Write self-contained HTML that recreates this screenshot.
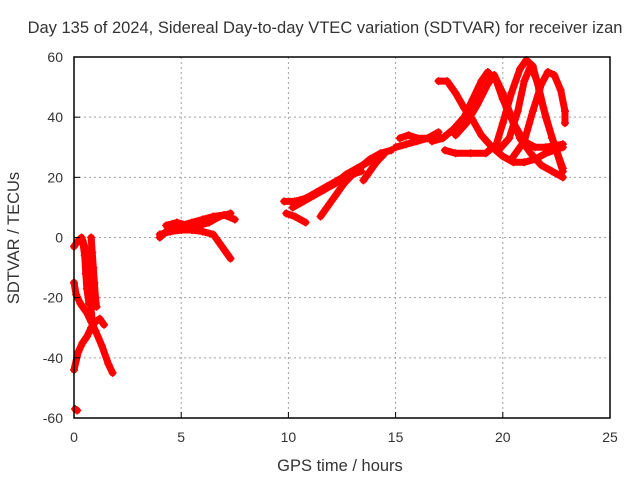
<!DOCTYPE html>
<html><head><meta charset="utf-8"><style>
body{margin:0;background:#fff}
svg text{font-family:"Liberation Sans",sans-serif;font-size:14px;fill:#333}
svg text.big{font-size:16.5px}
</style></head><body>
<svg width="640" height="480" viewBox="0 0 640 480" xmlns="http://www.w3.org/2000/svg">
<g id="grid"></g>
<g id="series"></g>
<rect x="74" y="57" width="536" height="361" fill="none" stroke="#000" stroke-width="1.5"/>
<g id="ticks"></g>
<text class="big" x="325" y="33" text-anchor="middle">Day 135 of 2024, Sidereal Day-to-day VTEC variation (SDTVAR) for receiver izan</text>
<text class="big" x="340" y="471" text-anchor="middle">GPS time / hours</text>
<text class="big" transform="translate(19,238) rotate(-90)" text-anchor="middle">SDTVAR / TECUs</text>
</svg>
<script>
const xTicks=[0,5,10,15,20,25];
const yTicks=[-60,-40,-20,0,20,40,60];
const tracks=[
[[0.0,-3],[0.2,-1],[0.35,0],[0.5,-3],[0.65,-10],[0.75,-20],[0.85,-28],[0.95,-31]],
[[0.0,-15],[0.1,-19],[0.3,-22],[0.6,-25],[0.8,-28],[1.0,-31],[1.3,-36],[1.6,-42],[1.8,-45]],
[[0.0,-44],[0.2,-38],[0.4,-35],[0.6,-33],[0.8,-30],[1.0,-28],[1.2,-27],[1.4,-29]],
[[0.8,0],[0.85,-5],[0.9,-10],[0.95,-15],[1.0,-20],[1.05,-23]],
[[0.4,-1],[0.5,-6],[0.55,-12],[0.6,-17],[0.7,-22]],
[[0.05,-57],[0.15,-57.5]],
[[4.0,0],[4.3,2],[4.6,3],[5.0,4],[5.5,5],[6.0,6],[6.5,7],[7.0,7.5],[7.5,6]],
[[4.0,1],[4.5,2],[5.0,2.5],[5.5,2.5],[6.0,2],[6.5,1],[6.8,-2],[7.1,-5],[7.3,-7]],
[[4.3,4],[4.8,5],[5.3,4],[5.8,4],[6.3,5],[6.8,7],[7.3,8]],
[[9.8,12],[10.3,12],[10.8,13],[11.3,15],[11.8,17],[12.3,19],[12.8,21],[13.3,23],[13.8,26],[14.3,28],[14.8,29]],
[[9.9,8],[10.3,7],[10.8,5]],
[[10.2,10],[10.7,12],[11.2,14],[11.7,16],[12.2,18],[12.7,21],[13.2,23],[13.7,25],[14.2,27]],
[[11.5,7],[11.8,10],[12.2,14],[12.6,18],[13.0,21],[13.4,22]],
[[13.5,19],[13.8,22],[14.1,25],[14.5,28]],
[[15.0,30],[15.5,31],[16.0,32],[16.5,33],[17.0,34]],
[[15.2,33],[15.6,34],[16.0,33],[16.5,33],[17.0,35]],
[[17.0,52],[17.4,52],[17.8,48],[18.2,43],[18.6,39],[19.0,34],[19.5,30],[20.0,27],[20.5,25],[21.0,25],[21.5,26],[22.0,28],[22.8,30]],
[[16.7,32],[17.2,33],[17.7,36],[18.2,40],[18.6,46],[19.0,52],[19.3,55],[19.7,52],[20.0,46],[20.5,38],[21.0,32],[21.5,30],[22.0,30],[22.8,31]],
[[17.3,29],[17.8,28],[18.5,28],[19.2,28],[19.7,31],[20.0,38],[20.4,48],[20.8,56],[21.1,59],[21.4,57],[21.7,49],[22.0,40],[22.4,31],[22.8,22]],
[[17.8,34],[18.3,38],[18.8,44],[19.3,51],[19.6,54],[20.0,48],[20.4,40],[20.8,33],[21.3,28],[21.8,24],[22.3,22],[22.8,20]],
[[19.8,29],[20.3,33],[20.7,42],[21.0,52],[21.3,57],[21.6,52],[21.9,43],[22.3,33],[22.8,23]],
[[20.5,27],[21.0,32],[21.4,42],[21.8,51],[22.1,55],[22.4,54],[22.7,49],[22.9,42],[22.9,38]]
];
const NS='http://www.w3.org/2000/svg';
const X=h=>74+h*536/25, Y=v=>237.5-v*361/120;
const grid=document.getElementById('grid'),ticks=document.getElementById('ticks'),ser=document.getElementById('series');
function mk(tag,attrs,parent){const e=document.createElementNS(NS,tag);for(const k in attrs)e.setAttribute(k,attrs[k]);parent.appendChild(e);return e;}
xTicks.forEach(t=>{
 if(t>0&&t<25){const g=mk('line',{x1:X(t),x2:X(t),y1:57,y2:418,stroke:'#a0a0a0','stroke-dasharray':'2,3'},grid);
 
 }
 const l=mk('text',{x:X(t),y:442,'text-anchor':'middle'},ticks);l.textContent=t;
 
 
 mk('line',{x1:X(t),x2:X(t),y1:418,y2:412,stroke:'#000'},ticks);
});
yTicks.forEach(t=>{
 if(t>-60&&t<60){const g=mk('line',{x1:74,x2:610,y1:Y(t),y2:Y(t),stroke:'#a0a0a0','stroke-dasharray':'2,3'},grid);
 
 }
 const l=mk('text',{x:63,y:Y(t)+5,'text-anchor':'end'},ticks);l.textContent=t;
 
 
 mk('line',{x1:74,x2:80,y1:Y(t),y2:Y(t),stroke:'#000'},ticks);
});
tracks.forEach((tr,i)=>{
 const p=mk('polyline',{points:tr.map(d=>X(d[0])+','+Y(d[1])).join(' '),fill:'none',stroke:'#f00','stroke-width':7,'stroke-linejoin':'round','stroke-linecap':'round'},ser);
 
 
 tr.forEach(d=>{
  const m=mk('path',{d:`M${X(d[0])-4},${Y(d[1])}h8M${X(d[0])},${Y(d[1])-4}v8`,stroke:'#f00','stroke-width':1.5},ser);
  
  
 });
});
</script>
</body></html>
